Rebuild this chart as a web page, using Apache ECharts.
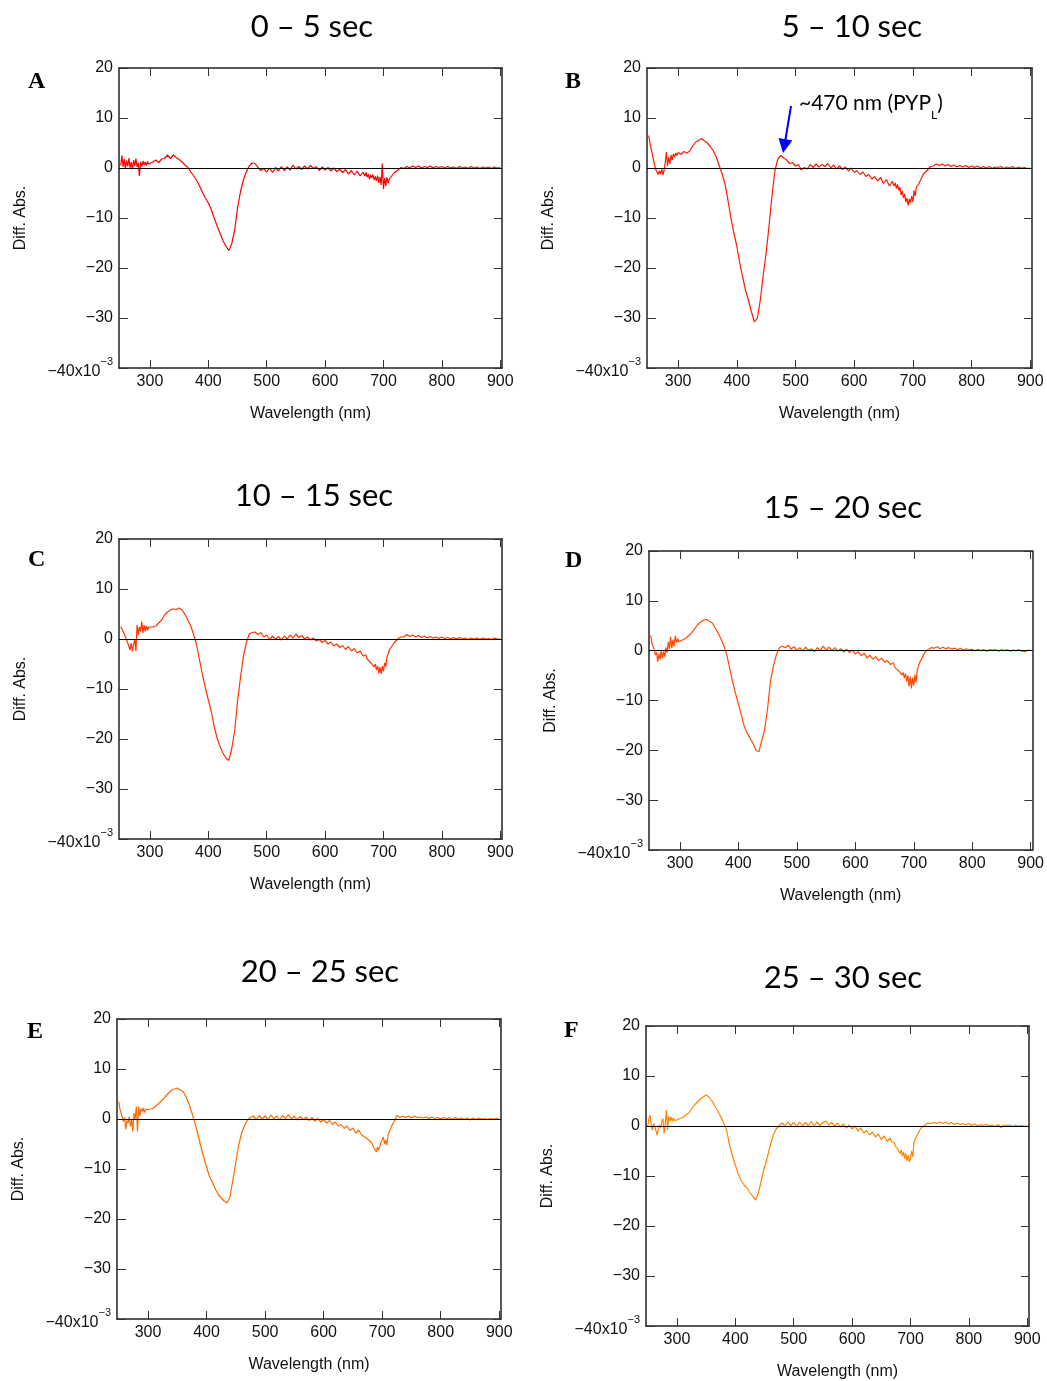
<!DOCTYPE html>
<html><head><meta charset="utf-8">
<script src="https://cdn.jsdelivr.net/npm/echarts@6/dist/echarts.min.js"></script>
<style>html,body{margin:0;padding:0;background:#fff}#c{width:1047px;height:1381px}</style>
</head><body><div id="c"></div>
<script>
// ---- DATA ----
const wavelength = [
250,252,254,256,258,260,262,264,266,268,270,272,274,276,278,280,282,284,286,288,290,292,294,296,298,300,
305,310,315,320,325,330,335,340,345,350,355,360,365,370,375,380,385,390,395,400,405,410,415,420,425,430,435,440,445,450,455,460,465,470,475,480,485,490,495,500,505,510,515,520,525,530,535,540,545,550,555,560,565,570,575,580,585,590,595,600,605,610,615,620,625,630,635,640,645,650,655,660,665,
668,670,672,674,676,678,680,682,684,686,688,690,692,694,696,698,700,702,704,706,708,710,712,714,716,718,720,
725,730,735,740,745,750,755,760,765,770,775,780,785,790,795,800,805,810,815,820,825,830,835,840,845,850,855,860,865,870,875,880,885,890,895,900];

const diff_0_5 = [
0.5,2.5,0.2,1.8,-0.2,1.5,0.3,2.0,0.0,1.2,-0.3,1.6,0.4,1.9,0.2,1.0,-1.6,1.2,0.3,1.4,0.6,1.2,0.5,1.3,0.8,1.0,
1.2,1.6,1.1,1.8,1.9,2.6,1.9,2.6,2.1,1.7,1.2,0.6,0.1,-0.8,-1.6,-2.5,-3.6,-4.9,-6.0,-7.0,-8.3,-10.0,-11.6,-13.0,-14.5,-15.6,-16.5,-15.2,-12.5,-8.0,-4.8,-2.4,-0.8,0.4,1.0,
0.9,0.1,-0.5,-0.1,-0.8,0.0,-0.9,0.1,-0.6,0.3,-0.5,0.2,-0.4,0.6,-0.2,0.3,-0.3,0.4,-0.2,0.5,-0.1,0.3,-0.5,0.2,-0.4,0.1,-0.6,0.0,-0.7,-0.2,-0.9,-0.3,-1.2,-0.5,-1.4,-0.6,-1.6,-0.8,
-1.6,-0.9,-1.8,-1.2,-2.2,-1.4,-2.0,-1.3,-2.4,-1.7,-2.6,-1.5,-3.0,-1.8,-3.4,0.9,-4.2,-2.0,-3.6,-1.8,-3.0,-2.2,-2.6,-1.6,-1.9,-1.0,-1.3,
-0.4,0.1,-0.1,0.3,0.0,0.4,0.1,0.4,0.0,0.3,0.1,0.4,0.0,0.3,0.1,0.3,0.0,0.3,0.0,0.2,-0.1,0.3,0.0,0.2,-0.1,0.3,0.0,0.2,-0.1,0.2,0.0,0.2,-0.1,0.2,0.0,0.1];

const diff_5_10 = [
6.5,5.0,3.8,2.8,1.6,0.5,-0.3,-0.8,-1.3,-0.6,-1.2,-0.2,-1.4,-0.5,1.0,3.2,0.4,2.2,0.8,2.6,1.6,2.8,2.2,3.0,2.5,3.1,
2.7,3.3,3.0,3.4,4.4,5.2,5.5,5.9,5.4,5.0,4.3,3.4,2.2,0.5,-1.2,-3.2,-6.5,-10.0,-13.0,-15.6,-19.0,-21.8,-24.5,-26.5,-28.8,-30.8,-30.0,-26.5,-21.5,-17.0,-11.5,-5.5,-0.5,1.8,2.5,
2.0,1.6,0.9,1.1,0.4,0.7,-0.4,0.1,-0.2,0.7,0.1,0.8,0.2,0.7,0.3,0.9,0.0,0.6,-0.2,0.4,-0.3,0.2,-0.6,0.0,-0.9,-0.5,-1.3,-0.8,-1.7,-1.3,-2.2,-1.7,-2.6,-1.9,-3.1,-2.3,-3.6,-2.7,
-3.6,-3.0,-4.1,-3.3,-4.5,-3.8,-5.4,-4.6,-6.0,-5.2,-6.8,-6.0,-7.5,-6.2,-7.0,-5.6,-6.8,-4.5,-5.6,-3.8,-4.2,-3.2,-3.0,-2.2,-1.9,-1.2,-1.0,
-0.4,0.3,0.4,0.8,0.5,0.8,0.4,0.7,0.3,0.6,0.2,0.5,0.2,0.5,0.1,0.4,0.1,0.4,0.0,0.3,0.0,0.3,-0.1,0.2,0.1,0.3,-0.1,0.2,0.0,0.3,-0.1,0.2,0.0,0.1,-0.1,0.0];

const diff_10_15 = [
2.5,2.0,1.5,1.0,0.4,0.0,-0.8,-1.5,-2.2,-0.8,-2.5,-1.2,0.0,-2.4,2.8,0.8,2.4,1.5,3.5,1.2,2.8,1.5,2.6,1.8,2.4,2.2,
2.4,2.6,3.2,3.8,4.8,5.4,5.8,6.0,5.9,6.2,5.8,4.9,3.8,2.6,0.8,-1.2,-4.2,-7.2,-9.8,-12.2,-14.5,-17.5,-19.8,-21.5,-22.8,-23.8,-24.3,-22.0,-18.5,-12.5,-7.8,-3.5,-0.8,1.0,1.3,
1.4,0.9,1.3,0.4,0.8,-0.1,0.6,-0.1,0.5,-0.2,0.6,0.0,0.8,0.2,1.0,0.3,0.7,0.0,0.4,-0.2,0.2,-0.4,-0.1,-0.7,-0.3,-1.0,-0.6,-1.4,-1.0,-1.7,-1.3,-2.1,-1.5,-2.4,-1.9,-2.8,-2.4,-3.4,
-3.6,-3.2,-4.0,-3.8,-4.5,-4.2,-5.0,-4.6,-5.6,-5.0,-6.2,-5.4,-6.9,-5.6,-7.0,-5.4,-6.5,-4.8,-5.5,-3.6,-3.0,-2.2,-2.5,-1.5,-1.1,-0.8,-0.4,
0.1,0.4,0.4,0.9,0.5,0.8,0.4,0.7,0.3,0.6,0.2,0.5,0.2,0.4,0.1,0.4,0.1,0.3,0.0,0.3,0.0,0.3,0.0,0.2,-0.1,0.2,0.0,0.2,-0.1,0.2,0.0,0.1,-0.1,0.2,0.0,0.0];

const diff_15_20 = [
3.1,1.5,1.2,0.2,-0.9,-0.3,-2.2,-0.6,-1.8,0.2,-1.5,-0.2,-1.2,0.6,-0.4,1.8,0.3,2.8,0.5,2.2,0.9,3.0,1.6,2.4,1.8,2.0,
2.2,2.5,3.0,3.6,4.4,5.2,5.7,6.1,6.3,5.9,5.6,4.6,3.6,2.4,1.0,-0.8,-3.5,-6.2,-8.5,-10.8,-12.9,-15.2,-16.5,-17.6,-18.6,-20.0,-20.3,-18.0,-15.8,-11.5,-6.0,-3.0,-0.8,0.6,0.9,
0.6,1.1,0.3,0.8,0.0,0.6,-0.1,0.7,0.1,0.4,-0.2,0.6,0.0,0.9,0.1,0.7,0.0,0.6,-0.1,0.4,-0.3,0.3,-0.4,0.1,-0.7,-0.2,-1.0,-0.5,-1.5,-0.9,-1.7,-1.2,-2.0,-1.5,-2.3,-2.0,-2.8,-2.4,
-3.4,-3.0,-3.8,-3.4,-4.3,-3.9,-4.9,-4.4,-5.5,-4.6,-6.2,-5.0,-7.2,-5.2,-7.6,-5.4,-7.0,-4.8,-6.4,-3.8,-4.2,-2.4,-2.2,-1.5,-1.0,-0.6,-0.2,
0.3,0.6,0.5,0.8,0.4,0.7,0.4,0.6,0.3,0.5,0.2,0.5,0.1,0.4,0.1,0.3,0.0,0.3,0.0,0.2,-0.1,0.2,0.1,0.2,-0.1,0.2,0.0,0.2,-0.1,0.1,0.0,0.2,-0.1,-0.2,0.1,0.0];

const diff_20_25 = [
3.5,2.0,1.2,0.4,-0.5,0.3,-2.1,-0.3,-0.8,0.5,-1.5,-0.2,-2.5,1.2,0.0,2.5,-2.5,2.5,0.6,2.1,1.5,2.2,1.3,2.0,1.6,1.9,
2.0,2.2,2.8,3.3,3.9,4.5,5.2,5.8,6.0,6.2,5.8,5.5,4.4,3.0,1.2,-0.8,-3.0,-5.4,-7.6,-9.6,-11.5,-12.7,-14.0,-15.1,-15.8,-16.4,-16.8,-15.6,-12.2,-8.6,-5.2,-2.8,-1.3,-0.2,0.3,
0.6,-0.1,0.7,0.0,0.6,-0.1,0.8,0.0,0.6,-0.2,0.7,0.1,0.9,0.0,0.6,-0.2,0.5,-0.1,0.4,-0.3,0.3,-0.4,0.1,-0.6,-0.1,-0.8,-0.3,-1.1,-0.6,-1.4,-1.1,-1.9,-1.4,-2.3,-1.8,-2.8,-2.2,-3.2,
-3.2,-3.6,-3.3,-3.9,-3.6,-4.3,-4.0,-4.8,-5.0,-5.8,-6.0,-6.6,-5.6,-6.2,-5.5,-4.6,-4.2,-3.6,-5.0,-4.2,-5.2,-3.2,-2.6,-2.0,-1.4,-1.0,-0.6,
0.7,0.3,0.6,0.3,0.6,0.2,0.6,0.3,0.4,0.2,0.4,0.1,0.4,0.1,0.3,0.0,0.3,0.0,0.3,-0.1,0.3,0.0,0.2,-0.1,0.2,-0.2,0.2,-0.1,0.2,0.0,0.1,-0.1,0.1,0.0,0.1,0.0];

const diff_25_30 = [
0.0,1.5,2.2,0.2,-0.8,0.5,-0.2,-0.9,-1.8,-0.6,0.2,-0.4,0.8,1.5,-1.5,0.6,3.2,-0.8,2.0,1.0,1.8,0.9,1.6,1.1,1.3,1.2,
1.5,1.7,2.2,2.6,3.4,4.2,4.8,5.4,5.8,6.2,5.8,5.0,4.0,3.0,1.9,0.6,-0.8,-3.8,-6.0,-7.8,-9.6,-10.9,-11.8,-12.4,-13.3,-14.1,-14.8,-13.2,-10.6,-8.2,-6.2,-3.8,-1.8,-0.6,0.0,
0.6,0.0,0.8,0.1,0.7,-0.1,0.8,0.0,0.7,0.1,0.9,0.0,0.8,0.1,0.7,1.0,0.2,0.7,0.0,0.6,-0.2,0.4,-0.4,0.2,-0.6,0.0,-1.0,-0.4,-1.4,-0.9,-1.8,-1.2,-2.2,-1.6,-2.7,-2.0,-3.1,-2.4,
-3.2,-3.6,-3.3,-4.0,-3.8,-4.6,-4.2,-5.5,-4.8,-6.0,-5.2,-6.5,-5.5,-7.0,-5.8,-7.2,-6.5,-5.0,-6.2,-3.2,-2.6,-2.8,-1.8,-1.5,-0.8,-1.1,-0.2,
0.2,0.6,0.5,0.7,0.5,0.8,0.5,0.8,0.4,0.7,0.3,0.6,0.3,0.5,0.2,0.5,0.1,0.4,0.0,0.3,0.1,0.3,0.0,0.2,-0.1,0.3,-0.3,0.2,0.1,0.2,-0.1,0.2,0.0,0.1,0.0,0.0];

const xTickValues = [300, 400, 500, 600, 700, 800, 900];
const yTickValues = [-40, -30, -20, -10, 0, 10, 20];
const panelTitles = ['0 \u2013 5 sec', '5 \u2013 10 sec', '10 \u2013 15 sec', '15 \u2013 20 sec', '20 \u2013 25 sec', '25 \u2013 30 sec'];
const panelLetters = ['A', 'B', 'C', 'D', 'E', 'F'];
const xAxisTitle = 'Wavelength (nm)';
const yAxisTitle = 'Diff. Abs.';
const annotationText = '~470 nm (PYP';
const annotationSub = 'L';

// ---- LAYOUT / STYLE ----
const seriesValues = [diff_0_5, diff_5_10, diff_10_15, diff_15_20, diff_20_25, diff_25_30];
const lineColors = ['#ff0000', '#ff1a00', '#ff3300', '#ff4a00', '#ff6a00', '#ff8400'];
const layout = [
  {left: 119, top: 68,   width: 383, height: 300, title: [312, 27],  letter: [28, 82]},
  {left: 647, top: 68,   width: 385, height: 300, title: [852, 27],  letter: [565, 82]},
  {left: 119, top: 539,  width: 383, height: 300, title: [314, 496], letter: [28, 560]},
  {left: 649, top: 551,  width: 384, height: 299, title: [843, 508], letter: [565, 561]},
  {left: 117, top: 1019, width: 384, height: 300, title: [320, 972], letter: [27, 1032]},
  {left: 646, top: 1026, width: 383, height: 301, title: [843, 978], letter: [564, 1031]}
];
const XMIN = 247, XMAX = 903;
const FONT = 'Liberation Sans';
const frameColor = '#222';

const grids = [], xAxes = [], yAxes = [], series = [], graphics = [];

layout.forEach((p, i) => {
  grids.push({left: p.left, top: p.top, width: p.width, height: p.height, show: false});
  const lineSt = {show: true, onZero: false, lineStyle: {color: frameColor, width: 1.5}};
  xAxes.push({
    type: 'value', gridIndex: i, min: XMIN, max: XMAX, position: 'bottom',
    axisLine: lineSt,
    axisTick: {show: true, inside: true, length: 8, customValues: xTickValues, lineStyle: {color: '#333', width: 1}},
    axisLabel: {show: true, customValues: xTickValues, margin: 6, fontSize: 16, fontFamily: FONT, color: '#111'},
    splitLine: {show: false},
    name: xAxisTitle, nameLocation: 'middle', nameGap: 38,
    nameTextStyle: {fontSize: 16, fontFamily: FONT, color: '#111'}
  });
  xAxes.push({
    type: 'value', gridIndex: i, min: XMIN, max: XMAX, position: 'top',
    axisLine: lineSt,
    axisTick: {show: true, inside: true, length: 8, customValues: xTickValues, lineStyle: {color: '#333', width: 1}},
    axisLabel: {show: false}, splitLine: {show: false}
  });
  yAxes.push({
    type: 'value', gridIndex: i, min: -40, max: 20, interval: 10, position: 'left',
    axisLine: lineSt,
    axisTick: {show: true, inside: true, length: 9, lineStyle: {color: '#333', width: 1}},
    axisLabel: {
      show: true, margin: 6, fontSize: 16, fontFamily: FONT, color: '#111',
      formatter: v => v === -40 ? '{a|\u221240x10}{s|\u22123}' : (v < 0 ? '\u2212' + Math.abs(v) : String(v)),
      rich: {
        a: {fontSize: 16, fontFamily: FONT, color: '#111', verticalAlign: 'bottom', lineHeight: 24},
        s: {fontSize: 11, fontFamily: FONT, color: '#111', verticalAlign: 'top', lineHeight: 24}
      }
    },
    splitLine: {show: false},
    name: yAxisTitle, nameLocation: 'middle', nameGap: 90,
    nameTextStyle: {fontSize: 16, fontFamily: FONT, color: '#111'}
  });
  yAxes.push({
    type: 'value', gridIndex: i, min: -40, max: 20, interval: 10, position: 'right',
    axisLine: lineSt,
    axisTick: {show: true, inside: true, length: 8, lineStyle: {color: '#333', width: 1}},
    axisLabel: {show: false}, splitLine: {show: false}
  });
  const vals = seriesValues[i];
  series.push({
    type: 'line', xAxisIndex: 2 * i, yAxisIndex: 2 * i,
    data: wavelength.map((w, k) => [w, vals[k]]),
    showSymbol: false, symbol: 'none', animation: false,
    lineStyle: {width: 1.2, color: lineColors[i]}, itemStyle: {color: lineColors[i]},
    markLine: {
      silent: true, symbol: ['none', 'none'], animation: false,
      lineStyle: {color: '#000', width: 1.2, type: 'solid'}, label: {show: false},
      data: [{yAxis: 0}]
    }
  });
  graphics.push({
    type: 'text', x: p.title[0], y: p.title[1],
    style: {text: panelTitles[i], font: '31px Lato', fill: '#000', textAlign: 'center', textVerticalAlign: 'middle'}
  });
  graphics.push({
    type: 'text', x: p.letter[0], y: p.letter[1],
    style: {text: panelLetters[i], font: 'bold 24px "Liberation Serif"', fill: '#000', textAlign: 'left', textVerticalAlign: 'middle'}
  });
});

// annotation in panel B
graphics.push({
  type: 'text', x: 799, y: 107,
  style: {
    text: '{m|' + annotationText + '}{b|' + annotationSub + '}{m|)}',
    textAlign: 'left', textVerticalAlign: 'middle',
    rich: {
      m: {font: '21px Lato', fill: '#000', color: '#000', verticalAlign: 'top', lineHeight: 28},
      b: {font: '12px Lato', fill: '#000', color: '#000', verticalAlign: 'bottom', lineHeight: 28}
    }
  }
});
graphics.push({type: 'line', shape: {x1: 791, y1: 106, x2: 785.4, y2: 140}, style: {stroke: '#0000ff', lineWidth: 2}});
graphics.push({type: 'polygon', shape: {points: [[783, 153], [792.3, 140.4], [778.5, 138]]}, style: {fill: '#0000ff'}});

const chart = echarts.init(document.getElementById('c'), null, {renderer: 'canvas'});
chart.setOption({
  animation: false,
  backgroundColor: '#fff',
  grid: grids, xAxis: xAxes, yAxis: yAxes, series: series, graphic: graphics
});
</script></body></html>
